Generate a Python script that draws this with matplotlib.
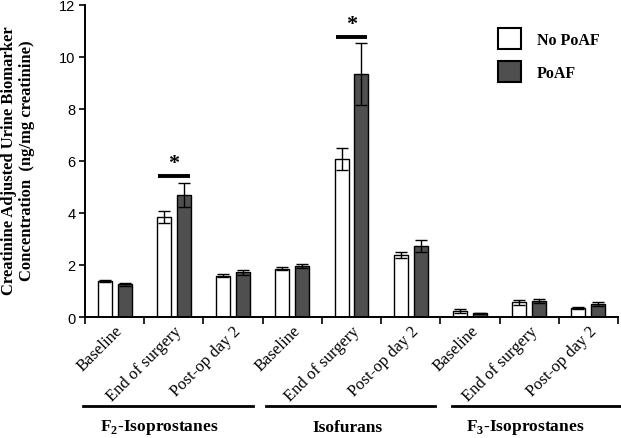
import matplotlib
matplotlib.use("Agg")
import matplotlib.pyplot as plt
import matplotlib.transforms as mtransforms
from matplotlib.patches import Patch
import numpy as np

plt.rcParams['mathtext.fontset'] = 'custom'
plt.rcParams['mathtext.rm'] = 'Liberation Serif:bold'
plt.rcParams['mathtext.bf'] = 'Liberation Serif:bold'

timepoints = ["Baseline", "End of surgery", "Post-op day 2"]
groups = [r"F$_\mathrm{2}$-Isoprostanes", "Isofurans", r"F$_\mathrm{3}$-Isoprostanes"]
series = ["No PoAF", "PoAF"]

no_poaf = [1.39, 3.86, 1.59, 1.86, 6.07, 2.37, 0.22, 0.57, 0.35]
no_poaf_err = [0.05, 0.23, 0.07, 0.06, 0.42, 0.12, 0.08, 0.10, 0.03]
poaf = [1.25, 4.68, 1.72, 1.96, 9.33, 2.74, 0.14, 0.61, 0.50]
poaf_err = [0.06, 0.45, 0.10, 0.08, 1.20, 0.23, 0.02, 0.09, 0.09]

sig_idx = [1, 4]
sig_line_y = [5.42, 10.77]

serif = "Liberation Serif"
sans = "Liberation Sans"

fig = plt.figure(figsize=(6.21, 4.39), dpi=100)
ax = fig.add_axes([85/621, 1-318/439, 533/621, (318-5.7)/439])

n = len(no_poaf)
x = np.arange(n) + 0.5
w = 0.236
off = 0.168
ax.bar(x - off, no_poaf, w, color="white", edgecolor="black", linewidth=1.0, zorder=2)
ax.bar(x + off, poaf, w, color="#4f4f4f", edgecolor="black", linewidth=1.0, zorder=2)
ax.errorbar(x - off, no_poaf, yerr=no_poaf_err, fmt="none", ecolor="black", elinewidth=1.0, capsize=4, capthick=1.0, zorder=3)
ax.errorbar(x + off, poaf, yerr=poaf_err, fmt="none", ecolor="black", elinewidth=1.0, capsize=4, capthick=1.0, zorder=3)

for i, yl in zip(sig_idx, sig_line_y):
    ax.plot([x[i] - off - 0.1, x[i] + off + 0.1], [yl, yl], color="black", lw=2.8, solid_capstyle="butt", clip_on=False)
    ax.text(x[i], yl + 0.12, "*", ha="center", va="bottom", fontsize=16, fontweight="bold", family=serif)

ax.set_xlim(0, n)
ax.set_ylim(0, 12)
ax.set_yticks(np.arange(0, 13, 2))
ax.set_yticklabels([str(v) for v in range(0, 13, 2)], fontsize=10.5, family=sans)
ax.set_xticks(np.arange(0, n + 1))
ax.set_xticklabels([])
ax.set_xticks(x, minor=True)
ax.set_xticklabels(timepoints * 3, minor=True, rotation=45, ha="right", rotation_mode="anchor",
                   fontsize=12, family=serif)
ax.tick_params(axis="x", which="major", length=5, width=1.2, direction="out")
ax.tick_params(axis="x", which="minor", length=0, pad=4)
ax.tick_params(axis="y", length=4, width=1.2, direction="out", pad=3)
for s in ["top", "right"]:
    ax.spines[s].set_visible(False)
for s in ["left", "bottom"]:
    ax.spines[s].set_linewidth(1.4)

trans = mtransforms.blended_transform_factory(ax.transData, ax.transAxes)
line_starts = [-0.03, 3.06, 6.2]
line_ends = [2.83, 5.91, 9.04]
label_pos = [1.25, 4.43, 7.43]
for g, s0, s1, lp in zip(groups, line_starts, line_ends, label_pos):
    ax.plot([s0, s1], [-0.284, -0.284], color="black", lw=2.0, transform=trans, clip_on=False)
    ax.text(lp, -0.352, g, transform=trans, ha="center", va="center", fontsize=12.5,
            fontweight="bold", family=serif)

fig.text(18/621, 1-161/439, "Creatinine Adjusted Urine Biomarker\nConcentration  (ng/mg creatinine)",
         rotation=90, ha="center", va="center", fontsize=12, fontweight="bold", family=serif,
         linespacing=1.2)

handles = [Patch(facecolor="white", edgecolor="black", linewidth=1.5),
           Patch(facecolor="#4f4f4f", edgecolor="black", linewidth=1.5)]
leg = ax.legend(handles, series, loc="upper left", bbox_to_anchor=(487/621, 1-18/439),
                bbox_transform=fig.transFigure, frameon=False,
                prop={"family": serif, "weight": "bold", "size": 11.5},
                handlelength=1.45, handleheight=1.6, labelspacing=0.8, handletextpad=0.95,
                borderpad=0.2)

fig.savefig("out.png", dpi=100)
